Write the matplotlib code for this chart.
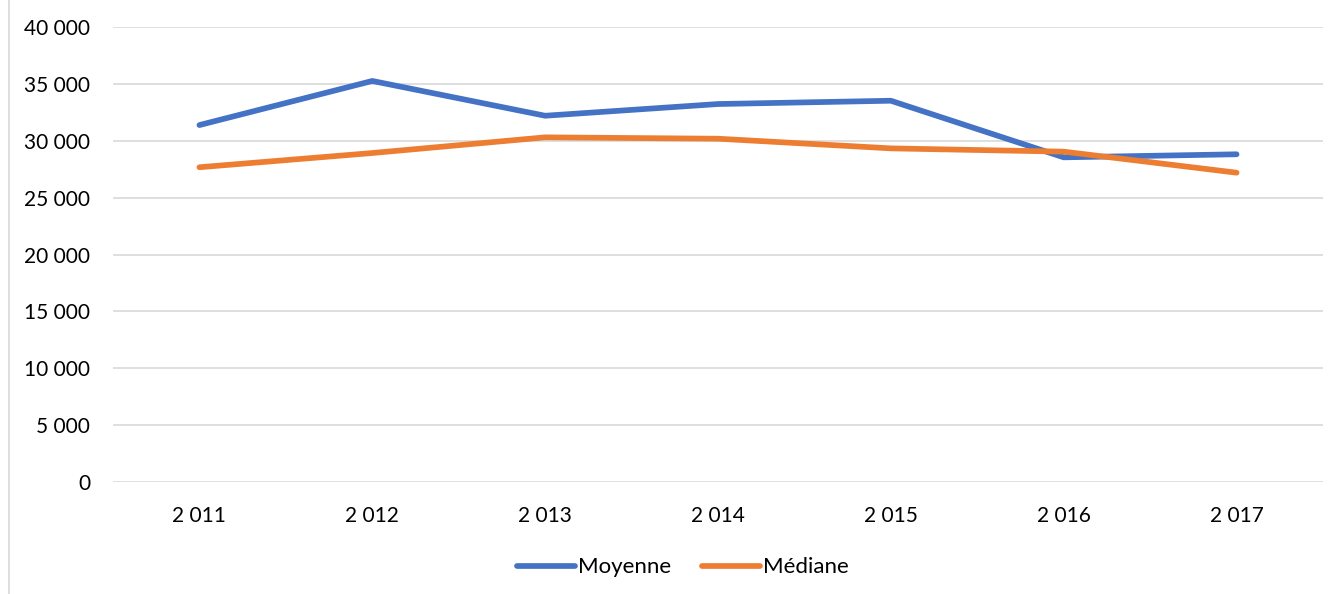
import matplotlib
matplotlib.use("Agg")
import matplotlib.pyplot as plt
from matplotlib.lines import Line2D

years = ["2 011", "2 012", "2 013", "2 014", "2 015", "2 016", "2 017"]
moyenne = [31400, 35280, 32220, 33250, 33540, 28560, 28830]
mediane = [27690, 28940, 30320, 30200, 29350, 29060, 27210]
yticks = [0, 5000, 10000, 15000, 20000, 25000, 30000, 35000, 40000]
ytick_labels = ["0", "5 000", "10 000", "15 000", "20 000", "25 000", "30 000", "35 000", "40 000"]

plt.rcParams['font.family'] = ['Lato', 'DejaVu Sans']

W, H = 1339, 594
fig = plt.figure(figsize=(W / 100, H / 100), dpi=100)
ax = fig.add_axes([113 / W, 1 - 482 / H, (1323 - 113) / W, (482 - 27.3) / H])

x = list(range(len(years)))
ax.plot(x, moyenne, color="#4472C4", lw=4.1, solid_capstyle="round", solid_joinstyle="round", label="Moyenne", zorder=3)
ax.plot(x, mediane, color="#ED7D31", lw=4.1, solid_capstyle="round", solid_joinstyle="round", label="Médiane", zorder=3)

ax.set_xlim(-0.5, len(years) - 0.5)
ax.set_ylim(0, 40000)
ax.set_yticks(yticks)
ax.set_yticklabels(ytick_labels)
ax.set_xticks(x)
ax.set_xticklabels(years)
ax.yaxis.grid(True, color="#D9D9D9", lw=1.2)
ax.set_axisbelow(True)
for s in ax.spines.values():
    s.set_visible(False)
ax.tick_params(axis="both", length=0, labelsize=15, colors="#000000")
ax.tick_params(axis="y", pad=16.5)
ax.tick_params(axis="x", pad=17)

leg = ax.legend(loc="center", bbox_to_anchor=(0.471, -0.188), ncol=2, frameon=False,
                fontsize=16, handlelength=2.6, handletextpad=0.12, columnspacing=1.4)

fig.add_artist(Line2D([8.5 / W, 8.5 / W], [0, 1], color="#D9D9D9", lw=1.2))

fig.savefig("out.png", dpi=100)
